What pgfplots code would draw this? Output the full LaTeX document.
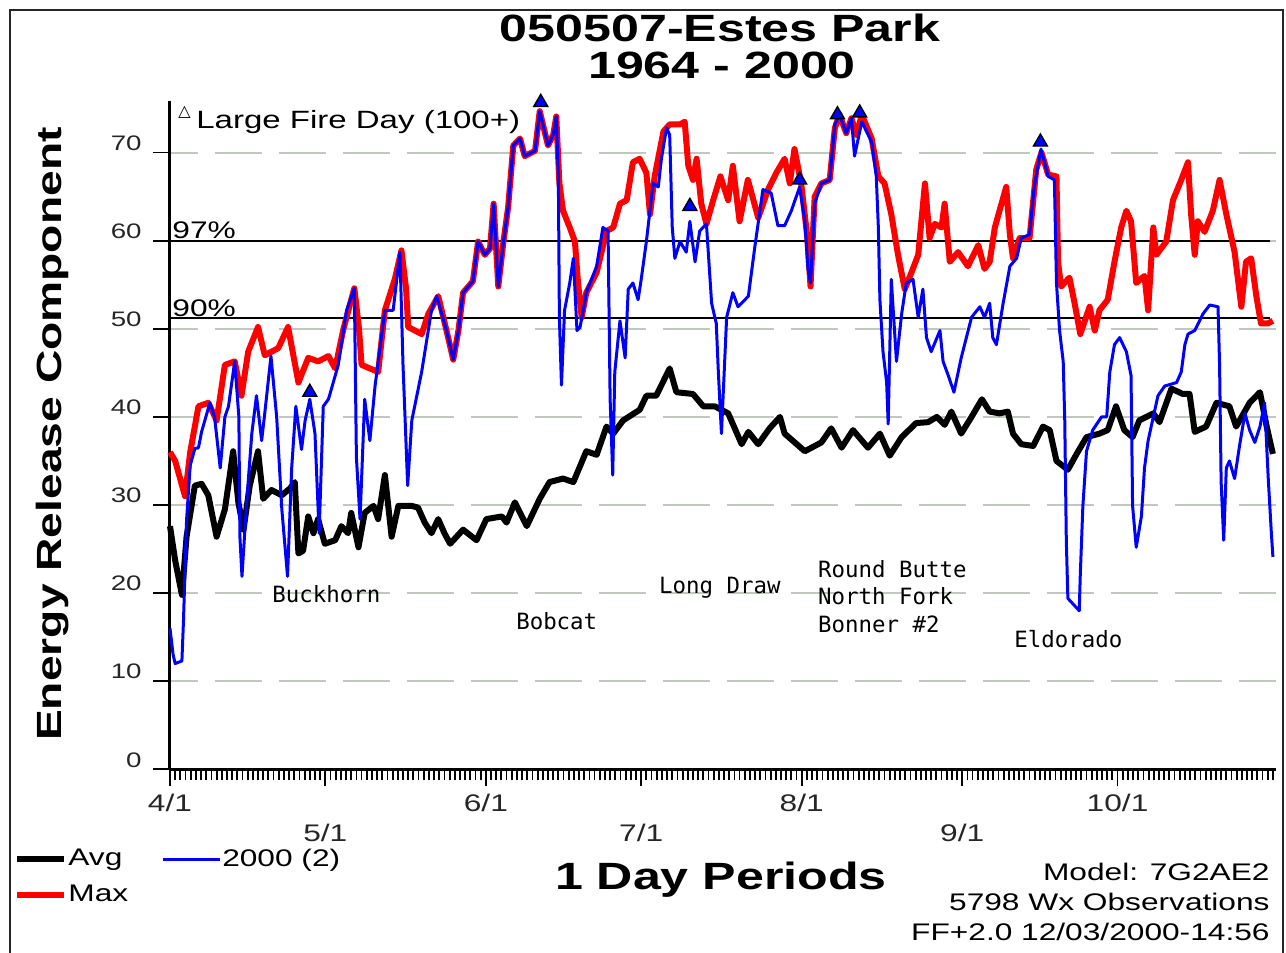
\documentclass[border=0pt]{standalone}
\usepackage{fontspec}
\setmainfont{Liberation Sans}[FakeStretch=1.32]
\newfontfamily\monofont{DejaVu Sans Mono}
\newfontfamily\symfont{DejaVu Sans}
\usepackage{pgfplots}
\pgfplotsset{compat=1.18}
\definecolor{ercred}{RGB}{255,0,0}
\definecolor{ercblue}{RGB}{0,0,255}
\definecolor{gridgray}{RGB}{192,200,192}
\begin{document}
\begin{tikzpicture}
\useasboundingbox (0,0) rectangle (643pt,476.5pt);
\begin{axis}[
  at={(85pt,91.85pt)}, anchor=south west,
  scale only axis, width=552.75pt, height=333.9pt,
  xmin=0, xmax=213.5, ymin=0, ymax=75.8,
  axis x line*=bottom, axis y line*=left,
  axis line style={line width=1.5pt, -},
  clip=false,
  tick align=outside,
  major tick length=8.5pt, minor tick length=5.5pt,
  every tick/.style={black, line width=0.9pt},
  xtick={0,61,122,183}, xticklabels={4/1,6/1,8/1,10/1},
  extra x ticks={30,91,153}, extra x tick labels={5/1,7/1,9/1},
  extra x tick style={xticklabel style={yshift=-15pt}},
  minor xtick={1,...,213},
  ytick={0,10,...,70},
  /pgf/number format/assume math mode=true,
  xticklabel style={font=\fontsize{12}{14}\selectfont, text=black!85, anchor=north, inner sep=0pt, yshift=-3.5pt},
  yticklabel style={font=\fontsize{10.5}{12}\selectfont, text=black!85, anchor=south east, inner sep=0pt, xshift=-5.5pt, yshift=0.8pt},
  ymajorgrids,
  grid style={gridgray, line width=1pt, dash pattern=on 23.5pt off 8.5pt, dash phase=9.5pt},
  xlabel={1 Day Periods},
  xlabel style={at={(axis description cs:0.4984,-0.1807)}, anchor=base, font=\bfseries\fontsize{19}{20}\selectfont, inner sep=0pt},
  ylabel={Energy Release Component},
  every axis y label/.style={at={(axis description cs:-0.0977,0.502)}, anchor=base, rotate=90, font=\bfseries\fontsize{17.5}{18}\selectfont, inner sep=0pt},
  legend columns=2,
  legend cell align=left,
  legend style={at={(-0.1411,-0.117)}, anchor=north west, draw=none, fill=none, inner sep=0pt,
    font=\fontsize{12}{14}\selectfont, row sep=7pt,
    nodes={inner sep=0.5pt},
    /tikz/every even column/.append style={column sep=16pt}},
]
% reference lines 97% and 90%
\addplot[black, line width=1pt, forget plot] coordinates {(0,60) (212.5,60)};
\addplot[black, line width=1pt, forget plot] coordinates {(0,51.2) (212.5,51.2)};
% Avg
\addplot[black, line width=3pt, line join=round, forget plot] coordinates {
(0,27.6) (1,23.7) (2.3,19.8) (3.2,26.4) (4.8,32.2) (6.1,32.4) (7.4,31.1) (9,26.4) (10.6,29.5) (12.2,36.1)
(13.2,30.3) (14.2,27.2) (15.4,32.2) (17,36.1) (18,30.7) (19.6,31.7) (21.6,31.1) (23.2,31.9) (24.1,32.6) (24.8,24.5)
(25.7,24.8) (26.7,28.7) (27.7,26.8) (28.6,28.4) (29.9,25.6) (31.9,26) (33.1,27.6) (34.4,26.8) (35,29.1) (36.4,25.2)
(37.6,29.1) (39.3,29.9) (40.2,28.4) (41.5,33.4) (42.8,26.4) (44.1,29.9) (46.7,29.9) (47.9,29.7) (49.2,28) (50.5,26.8)
(51.8,28.4) (53,26.8) (54.1,25.6) (56.6,27.2) (59.2,26) (61.1,28.4) (64.1,28.7) (65,28) (66.6,30.3) (68.9,27.6)
(71.4,30.7) (73.3,32.6) (75.9,33) (77.9,32.6) (80.4,36.1) (82.4,35.7) (84.3,38.9) (85.6,38.1) (87.5,39.6) (90.7,40.8)
(92,42.4) (93.9,42.4) (96.5,45.5) (97.8,42.8) (101,42.6) (103,41.2) (105.2,41.2) (107.8,40.4) (110.4,36.9) (111.7,38.3)
(113.6,36.9) (115.8,38.7) (117.8,40) (118.7,38.1) (122.6,36.1) (125.8,37.1) (127.7,38.7) (129.7,36.5) (131.9,38.5) (134.8,36.5)
(137.1,38.1) (139,35.6) (141.3,37.7) (144.1,39.3) (146.4,39.4) (148.1,40) (149.6,39.1) (150.9,40.6) (152.8,38.1) (154.8,40)
(156.8,42) (158.3,40.6) (160.2,40.4) (161.8,40.6) (162.8,38.1) (164.4,36.9) (166.7,36.7) (168.6,38.9) (169.9,38.5) (171.2,35)
(173.4,34) (175.1,35.8) (177,37.7) (179.5,38.1) (181.1,38.5) (182.7,41.2) (184.3,38.5) (185.9,37.7) (187.2,39.6) (189.9,40.4)
(191.1,39.4) (193.4,43.2) (195.6,42.6) (196.9,42.6) (197.9,38.3) (200.1,38.9) (202.1,41.6) (204.6,41.2) (205.9,38.9) (208.5,41.6)
(210.5,42.8) (211.8,38.9) (213,35.8)};
% Max
\addplot[ercred, line width=3pt, line join=round, forget plot] coordinates {
(0,36) (1,35) (2.9,31) (3.9,36) (5.5,41.2) (7.4,41.6) (9,39.6) (10.6,45.9) (12.5,46.3) (13.8,42.4)
(15.1,47.4) (17,50.2) (18.3,47) (20.9,47.8) (22.8,50.2) (24.8,43.9) (26.7,46.7) (28.6,46.3) (30.6,46.9) (31.9,45.5)
(33.5,50) (35.6,54.6) (36.5,50) (37,45.9) (40.2,45.1) (41.5,52.1) (43.4,55.6) (44.7,58.9) (45.6,54.5) (46,50.2)
(48.6,49.4) (49.9,51.7) (51.8,53.7) (53.4,49.8) (54.7,46.5) (55.7,49.8) (56.6,54.1) (58.5,55.4) (59.5,59.9) (60.8,58.4)
(61.8,59.1) (62.5,64.2) (63.4,54.8) (64.4,59.9) (65.3,63.8) (66.3,70.8) (67.6,71.6) (68.5,69.6) (70.5,70.2) (71.4,74.7)
(73,70.8) (74,72) (74.6,74.1) (75.2,66.5) (75.9,63.4) (77.2,61.5) (78.2,59.9) (78.8,55.2) (79.5,51.3) (80.4,54.1)
(82.4,56.4) (84.3,61.1) (85.6,61.5) (86.9,64.2) (88.2,64.6) (89.4,68.9) (90.7,69.3) (92,67.7) (92.7,63) (93.6,67.3)
(95.3,72.4) (96.5,73.2) (98.5,73.2) (99.4,73.5) (100.1,68.5) (101,66.9) (101.7,69.3) (102.6,64.2) (103.6,61.9) (104.9,64.6)
(106.3,67.3) (107.8,64.6) (108.7,68.5) (110,62.2) (111.6,66.9) (113.6,62.6) (115.5,65.8) (117.1,67.7) (118.7,69.3) (119.7,66.5)
(120.6,70.4) (121.9,66.5) (123.1,60.3) (123.7,54.8) (124.5,65) (125.8,66.5) (127.4,66.9) (128.4,72.8) (129.3,74.3) (130.6,72.2)
(131.6,73.9) (132.6,72) (133.6,74.3) (135.5,71.6) (136.8,67.3) (138,66.5) (139.3,63) (140.6,58.4) (141.9,54.5) (143.2,56.4)
(144.5,58.4) (145.8,66.5) (146.7,60.3) (147.7,61.9) (149,61.5) (149.6,64.2) (150.6,57.6) (152.2,58.7) (154.1,57.1) (156.1,59.5)
(157.3,56.8) (158.3,57.6) (159.3,61.5) (160.2,63.4) (161.5,66.1) (162.2,60.7) (162.8,58) (164.1,60.3) (166,60.3) (167.3,68.1)
(168.3,70) (169.6,67.5) (171.2,67.3) (171.5,57.6) (172.1,54.8) (173.7,55.8) (174.7,52.9) (175.8,49.4) (177.6,52.5) (178.6,49.8)
(179.5,52.1) (181.1,53.3) (182.4,57.6) (183.7,61.5) (184.7,63.4) (185.6,62.2) (186.6,55.2) (188.2,56) (188.9,52.1) (189.9,61.5)
(190.5,58.4) (192.4,59.9) (193.7,64.6) (195.3,66.9) (196.6,68.9) (197.2,63) (197.9,58.4) (198.5,62.2) (199.8,61) (201.4,63.4)
(202.7,66.9) (204,63) (205.6,58.7) (206.9,52.5) (207.8,57.6) (208.8,58) (209.8,53.7) (210.7,50.6) (212,50.6) (213,50.9)};
% 2000
\addplot[ercblue, line width=1.5pt, line join=round, forget plot] coordinates {
(0,16) (0.6,13) (1,12) (2.3,12.3) (2.6,16.8) (3.2,28.3) (3.9,34.5) (4.8,36.4) (5.5,36.5) (6.1,38.3)
(7.7,41.6) (8.6,40) (9.7,34.2) (10.6,40) (11.3,41.2) (12.5,46.3) (13.3,40) (13.5,26.4) (13.9,21.9) (14.8,30.3)
(15.8,38.1) (16.7,42.4) (17.7,37.3) (18.3,40.4) (19.5,46.9) (20.6,40) (21.6,29.5) (22.7,21.9) (23.5,34.2) (24.3,41.2)
(25.4,36.3) (26.1,39.6) (27,42) (28,38.1) (28.8,26.8) (29.6,41.2) (30.6,42) (32.5,45.9) (34.1,52.1) (35.6,54.6)
(36,35.4) (36.7,28.4) (37.6,42) (38.6,37.3) (39.6,43.5) (41.5,52.1) (43.1,52.1) (44.4,58.7) (45,45.9) (45.9,32.2)
(46.7,39.6) (48.6,45.1) (50.5,52.1) (51.5,53.7) (53.4,49.8) (54.7,46.5) (55.7,49.8) (56.6,54.1) (58.5,55.4) (59.5,59.9)
(60.8,58.4) (61.8,59.1) (62.5,64.2) (63.4,54.8) (64.4,59.9) (65.3,63.8) (66.3,70.8) (67.6,71.6) (68.5,69.6) (70.5,70.2)
(71.4,74.7) (73,70.8) (74,72) (74.6,74.1) (75,67.3) (75.2,51.3) (75.6,43.6) (76.2,52.1) (77.2,55.2) (77.9,58)
(78.6,49.8) (79.2,50.2) (80.4,54.1) (82.4,57.1) (83.6,61.5) (84.6,61.1) (85,42) (85.5,33.4) (85.9,45.1) (86.9,50.9)
(87.9,46.7) (88.5,54.5) (89.4,55.2) (90.4,53.3) (91,55.6) (92,59.9) (93.3,66.5) (94.3,66.1) (94.9,69.3) (95.9,72.8)
(96.5,72) (97,61.5) (97.5,58) (98.5,59.9) (99.7,58.7) (100.4,62.2) (101.4,57.6) (102.3,61.1) (103.6,61.9) (104.6,52.9)
(105.5,50.6) (105.9,45.1) (106.5,38.1) (107.5,51.3) (108.7,54.1) (109.7,52.5) (111.7,53.7) (112.9,59.1) (114.5,65.8) (116.1,65.4)
(117.4,61.7) (118.7,61.7) (120,63.4) (121.6,66.1) (122.6,62.2) (123.2,56.8) (123.7,55.2) (124.5,64.2) (125.8,66.5) (127.4,66.9)
(128.4,73.2) (129.3,74.3) (130.6,72.2) (131.6,73.9) (132.2,69.6) (133.6,73.5) (135.5,71.2) (136.4,67.3) (136.8,61.5) (137.1,53.3)
(137.7,47.4) (138.4,43.9) (138.7,39.2) (139.3,55.6) (140.3,46.3) (141.3,51.7) (142.2,55.2) (143.5,55.6) (144.5,51.3) (145.4,54.5)
(146.1,49) (147,47.4) (148.7,49.8) (149.3,46.3) (150.3,44.7) (151.4,42.8) (152.8,46.7) (154.8,51.3) (156.4,52.5) (157.3,51.3)
(158.3,52.9) (158.9,49) (159.6,48.2) (160.9,52.9) (162.2,57.1) (163.5,58) (164.4,60.3) (166,60.7) (166.9,66.1) (168.2,70.4)
(169.6,67.3) (170.8,66.9) (171.2,55.2) (171.8,49.8) (172.5,46.3) (172.8,39.6) (173.1,26) (173.4,19.4) (175.6,18) (175.8,22.1)
(176.3,29.9) (177,36.1) (178.2,38.5) (179.9,40) (180.9,40) (181.5,45.1) (182.4,48.2) (183.4,49) (184.7,47.4) (185.6,44.7)
(185.9,29.9) (186.6,25.2) (187.6,28.7) (188.2,34.2) (188.9,37.3) (189.9,40) (190.8,42.4) (192.1,43.5) (194.4,43.9) (195.3,45.1)
(196,48.2) (196.6,49.4) (197.9,49.8) (199.5,51.7) (200.8,52.7) (202.4,52.5) (202.7,45.9) (203,32.6) (203.5,26) (204,34.2)
(204.6,35) (205.6,33) (206.6,36.9) (207.6,40.4) (208.5,38.5) (209.5,37.1) (210.5,38.9) (211.4,41.6) (212.1,33) (212.7,26.8)
(213,24.1)};
% Large fire days
\addplot[only marks, mark=triangle*, mark size=4pt, mark options={fill=ercblue, draw=black, line width=0.7pt}, forget plot] coordinates {
(27,42.8) (71.6,75.7) (100.4,63.9) (121.6,66.9) (128.9,74.3) (133.2,74.5) (168.1,71.2)};
% legend
\addlegendimage{legend image code/.code={\draw[black, line width=3pt] (0pt,0pt) -- (23.5pt,0pt);}}
\addlegendentry{Avg}
\addlegendimage{legend image code/.code={\draw[ercblue, line width=1.5pt] (0pt,0pt) -- (28.5pt,0pt);}}
\addlegendentry{2000 (2)}
\addlegendimage{legend image code/.code={\draw[ercred, line width=3pt] (0pt,0pt) -- (23.5pt,0pt);}}
\addlegendentry{Max}
% fire names
\begin{scope}[every node/.style={anchor=base west, inner sep=0pt, font=\monofont\fontsize{11.2}{13}\selectfont}]
\node at (axis cs:19.7,18.9) {Buckhorn};
\node at (axis cs:66.8,15.9) {Bobcat};
\node at (axis cs:94.4,20.0) {Long Draw};
\node at (axis cs:125.1,21.8) {Round Butte};
\node at (axis cs:125.1,18.65) {North Fork};
\node at (axis cs:125.1,15.5) {Bonner \#2};
\node at (axis cs:163.0,13.8) {Eldorado};
\end{scope}
\end{axis}
\begin{scope}[shift={(0pt,476.5pt)}, x=0.5pt, y=-0.5pt]
\draw[line width=1pt, black!85] (10,955) -- (10,10) -- (1283,10) -- (1283,955);
\node[anchor=base, inner sep=0pt, font=\bfseries\fontsize{19}{20}\selectfont] at (720,42) {050507-Estes Park};
\node[anchor=base, inner sep=0pt, font=\bfseries\fontsize{19}{20}\selectfont] at (722,79) {1964 - 2000};
\node[anchor=base west, inner sep=0pt, font=\fontsize{12}{14}\selectfont] at (172,238.5) {97\%};
\node[anchor=base west, inner sep=0pt, font=\fontsize{12}{14}\selectfont] at (172,316.4) {90\%};
\node[anchor=base west, inner sep=0pt, font=\symfont\fontsize{8}{8}\selectfont] at (178,117) {△};
\node[anchor=base west, inner sep=0pt, font=\fontsize{12.5}{14}\selectfont] at (196,129) {Large Fire Day (100+)};
\node[anchor=base east, inner sep=0pt, font=\fontsize{12}{14}\selectfont] at (1270,881) {Model: 7G2AE2};
\node[anchor=base east, inner sep=0pt, font=\fontsize{12}{14}\selectfont] at (1270,911) {5798 Wx Observations};
\node[anchor=base east, inner sep=0pt, font=\fontsize{12}{14}\selectfont] at (1270,941) {FF+2.0 12/03/2000-14:56};
\end{scope}
\end{tikzpicture}
\end{document}
